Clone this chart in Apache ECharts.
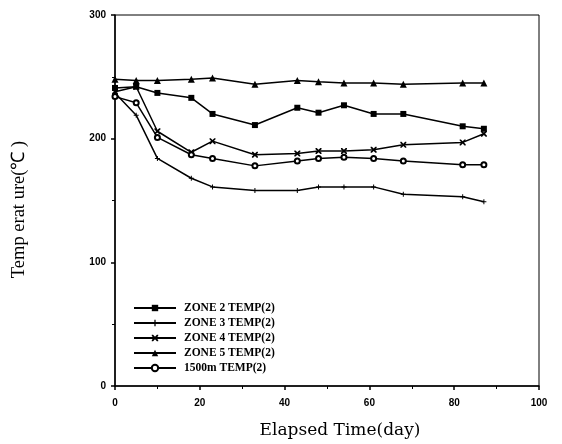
<!DOCTYPE html>
<html>
<head>
<meta charset="utf-8">
<script src="https://cdn.jsdelivr.net/npm/echarts@6/dist/echarts.min.js"></script>
<style>html,body{margin:0;padding:0;background:#fff;}#c{width:562px;height:444px;}</style>
</head>
<body>
<div id="c"></div>
<script>
var days = [0, 5, 10, 18, 23, 33, 43, 48, 54, 61, 68, 82, 87];
var zone2 = [241, 242, 237, 233, 220, 211, 225, 221, 227, 220, 220, 210, 208];
var zone3 = [237, 219, 184, 168, 161, 158, 158, 161, 161, 161, 155, 153, 149];
var zone4 = [238, 242, 206, 189, 198, 187, 188, 190, 190, 191, 195, 197, 204];
var zone5 = [248, 247, 247, 248, 249, 244, 247, 246, 245, 245, 244, 245, 245];
var m1500 = [234, 229, 201, 187, 184, 178, 182, 184, 185, 184, 182, 179, 179];
var seriesNames = ['ZONE 2 TEMP(2)', 'ZONE 3 TEMP(2)', 'ZONE 4 TEMP(2)', 'ZONE 5 TEMP(2)', '1500m TEMP(2)'];
var xTitle = 'Elapsed Time(day)';
var yTitle = 'Temp erat ure(℃ )';

function pairs(ys) { return days.map(function (d, i) { return [d, ys[i]]; }); }

var plusPath = 'path://M0,2L5,2L5,3L0,3Z M2,0L3,0L3,5L2,5Z';
var xPath = 'path://M0,0L1.2,0L3,1.8L4.8,0L6,0L6,1.2L4.2,3L6,4.8L6,6L4.8,6L3,4.2L1.2,6L0,6L0,4.8L1.8,3L0,1.2Z';
var symbols = ['rect', plusPath, xPath, 'triangle', 'emptyCircle'];
var sizes = [6, 5, 6, 7, 5];
var datasets = [zone2, zone3, zone4, zone5, m1500];

var chart = echarts.init(document.getElementById('c'), null, {renderer: 'canvas'});
var series = datasets.map(function (ys, k) {
  return {
    name: seriesNames[k],
    type: 'line',
    data: pairs(ys),
    symbol: symbols[k],
    symbolSize: sizes[k],
    showAllSymbol: true,
    lineStyle: {color: '#000', width: 1.5},
    itemStyle: {color: '#000', borderColor: '#000', borderWidth: k === 4 ? 1 : 0},
    animation: false
  };
});

chart.setOption({
  backgroundColor: '#fff',
  animation: false,
  grid: {left: 115, right: 23, top: 15, bottom: 57, show: true, borderColor: '#000', borderWidth: 1},
  legend: {
    orient: 'vertical',
    left: 128,
    top: 297,
    itemWidth: 42,
    itemHeight: 8,
    itemGap: 3,
    data: seriesNames,
    textStyle: {fontFamily: 'Liberation Serif', fontWeight: 'bold', fontSize: 11.5, color: '#000', padding: [0, 0, 0, 3]}
  },
  xAxis: {
    type: 'value', min: 0, max: 100, interval: 20,
    name: xTitle, nameLocation: 'middle', nameGap: 36,
    nameTextStyle: {fontFamily: 'DejaVu Serif', fontSize: 17, color: '#000', padding: [0, 0, 0, 26]},
    axisLine: {show: true, lineStyle: {color: '#000', width: 1.5}},
    axisTick: {show: true, inside: false, length: 4, lineStyle: {color: '#000', width: 1.5}},
    minorTick: {show: true, splitNumber: 2, length: 3, lineStyle: {color: '#000'}},
    splitLine: {show: false},
    axisLabel: {margin: 12, fontFamily: 'Liberation Sans', fontWeight: 'bold', fontSize: 10, color: '#000'}
  },
  yAxis: {
    type: 'value', min: 0, max: 300, interval: 100,
    name: yTitle, nameLocation: 'middle', nameGap: 86,
    nameTextStyle: {fontFamily: 'Liberation Serif', fontSize: 18.5, color: '#000', padding: [0, 18, 0, 0]},
    axisLine: {show: true, lineStyle: {color: '#000', width: 1.5}},
    axisTick: {show: true, inside: false, length: 4, lineStyle: {color: '#000', width: 1.5}},
    minorTick: {show: true, splitNumber: 2, length: 3, lineStyle: {color: '#000'}},
    splitLine: {show: false},
    axisLabel: {margin: 9, fontFamily: 'Liberation Sans', fontWeight: 'bold', fontSize: 10, color: '#000'}
  },
  series: series
});
</script>
</body>
</html>
